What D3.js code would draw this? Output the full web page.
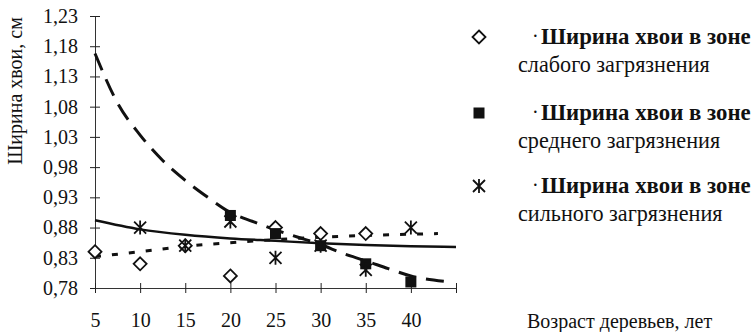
<!DOCTYPE html>
<html>
<head>
<meta charset="utf-8">
<script src="https://cdn.jsdelivr.net/npm/d3@7"></script>
<style>
  body { margin: 0; background: #fff; }
  text { font-family: "Liberation Serif", "DejaVu Serif", serif; fill: #111; }
</style>
</head>
<body>
<div id="chart"></div>
<script>
// Возраст деревьев (лет) и подписи осей
const ages = [5, 10, 15, 20, 25, 30, 35, 40];
const yTicks = [0.78, 0.83, 0.88, 0.93, 0.98, 1.03, 1.08, 1.13, 1.18, 1.23];

// Ширина хвои по зонам загрязнения (точки)
const weakAges = [5, 10, 15, 20, 25, 30, 35];
const weakValues = [0.84, 0.82, 0.85, 0.80, 0.88, 0.87, 0.87];
const mediumAges = [20, 25, 30, 35, 40];
const mediumValues = [0.90, 0.87, 0.85, 0.82, 0.79];
const strongAges = [10, 15, 20, 25, 30, 35, 40];
const strongValues = [0.88, 0.85, 0.89, 0.83, 0.85, 0.81, 0.88];

// Линии тренда
const weakTrendAges = [5, 10, 15, 20, 25, 30, 35, 40, 43];
const weakTrendValues = [0.832, 0.840, 0.849, 0.855, 0.860, 0.864, 0.867, 0.869, 0.870];
const mediumTrendAges = [5, 7.5, 10, 12.5, 15, 17.5, 20, 22.5, 25, 27.5, 30, 32.5, 35, 37.5, 40, 43.8];
const mediumTrendValues = [1.168, 1.086, 1.033, 0.991, 0.958, 0.930, 0.905, 0.890, 0.876, 0.864, 0.852, 0.837, 0.825, 0.812, 0.800, 0.791];
const strongTrendAges = [5, 10, 15, 20, 25, 30, 35, 40, 45];
const strongTrendValues = [0.892, 0.877, 0.868, 0.862, 0.858, 0.854, 0.851, 0.849, 0.848];

const legendLine1 = ["Ширина хвои в зоне", "Ширина хвои в зоне", "Ширина хвои в зоне"];
const legendLine2 = ["слабого загрязнения", "среднего загрязнения", "сильного загрязнения"];

const width = 751, height = 332;
const margin = { left: 95, top: 16 };
const plotW = 361, plotH = 272;

const svg = d3.select('#chart').append('svg')
    .attr('width', width)
    .attr('height', height);

const x = d3.scaleLinear().domain([5, 45]).range([margin.left, margin.left + plotW]);
const y = d3.scaleLinear().domain([0.78, 1.23]).range([margin.top + plotH, margin.top]);

const fmt = v => d3.format('.2f')(v).replace('.', ',');

// Ось Y
const yAxis = svg.append('g')
    .attr('transform', `translate(${margin.left},0)`)
    .call(d3.axisLeft(y).tickValues(yTicks).tickFormat(fmt).tickSizeInner(5).tickSizeOuter(0).tickPadding(12));
yAxis.select('.domain').attr('stroke', '#333');
yAxis.selectAll('.tick line').attr('x1', 5).attr('x2', -5).attr('stroke', '#222');
yAxis.selectAll('.tick text')
    .style('font-family', '"Liberation Serif", serif')
    .style('font-size', '20px')
    .attr('fill', '#111');

// Ось X
const xAxis = svg.append('g')
    .attr('transform', `translate(0,${margin.top + plotH})`)
    .call(d3.axisBottom(x).tickValues(ages.concat([45])).tickFormat(d => d === 45 ? '' : d)
        .tickSizeInner(5).tickSizeOuter(0).tickPadding(20));
xAxis.select('.domain').attr('stroke', '#333');
xAxis.selectAll('.tick line').attr('y1', -5).attr('y2', 5).attr('stroke', '#222');
xAxis.selectAll('.tick text')
    .style('font-family', '"Liberation Serif", serif')
    .style('font-size', '20px')
    .attr('fill', '#111');

// Линии тренда
const line = d3.line().x(d => x(d[0])).y(d => y(d[1])).curve(d3.curveMonotoneX);
const trends = svg.append('g').attr('class', 'trends');
trends.append('path')
    .attr('d', line(d3.zip(weakTrendAges, weakTrendValues)))
    .attr('fill', 'none').attr('stroke', '#111').attr('stroke-width', 3)
    .attr('stroke-dasharray', '6,11');
trends.append('path')
    .attr('d', line(d3.zip(mediumTrendAges, mediumTrendValues)))
    .attr('fill', 'none').attr('stroke', '#111').attr('stroke-width', 3)
    .attr('stroke-dasharray', '18,10');
trends.append('path')
    .attr('d', line(d3.zip(strongTrendAges, strongTrendValues)))
    .attr('fill', 'none').attr('stroke', '#111').attr('stroke-width', 2.5);

// Маркеры
const drawDiamond = (g, cx, cy) => g.append('path')
    .attr('d', `M${cx},${cy - 6.5}L${cx + 6.5},${cy}L${cx},${cy + 6.5}L${cx - 6.5},${cy}Z`)
    .attr('fill', '#fff').attr('stroke', '#111').attr('stroke-width', 1.8);
const drawSquare = (g, cx, cy) => g.append('rect')
    .attr('x', cx - 5.5).attr('y', cy - 5.5).attr('width', 11).attr('height', 11)
    .attr('fill', '#111');
const drawStar = (g, cx, cy) => g.append('path')
    .attr('d', `M${cx - 6},${cy - 6}L${cx + 6},${cy + 6}M${cx + 6},${cy - 6}L${cx - 6},${cy + 6}M${cx},${cy - 7}L${cx},${cy + 7}`)
    .attr('fill', 'none').attr('stroke', '#111').attr('stroke-width', 1.8);

const marks = svg.append('g').attr('class', 'marks');
weakAges.forEach((a, i) => drawDiamond(marks, x(a), y(weakValues[i])));
mediumAges.forEach((a, i) => drawSquare(marks, x(a), y(mediumValues[i])));
strongAges.forEach((a, i) => drawStar(marks, x(a), y(strongValues[i])));

// Легенда
const legend = svg.append('g').attr('class', 'legend');
const markerFns = [drawDiamond, drawSquare, drawStar];
const legendTop = [37, 113, 186];
legendTop.forEach((ly, i) => {
    markerFns[i](legend, 479, ly);
    legend.append('text').attr('x', 532).attr('y', ly + 6)
        .style('font-size', '20px').text('·');
    legend.append('text').attr('x', 541).attr('y', ly + 7)
        .style('font-size', '22.8px').style('font-weight', 'bold').text(legendLine1[i]);
    legend.append('text').attr('x', 518).attr('y', ly + 35)
        .style('font-size', '22.2px').text(legendLine2[i]);
});

// Подписи осей
svg.append('text')
    .attr('transform', 'translate(22,91) rotate(-90)')
    .attr('text-anchor', 'middle')
    .style('font-size', '20px')
    .text('Ширина хвои, см');
svg.append('text')
    .attr('x', 527).attr('y', 328)
    .style('font-size', '20px')
    .text('Возраст деревьев, лет');
</script>
</body>
</html>
